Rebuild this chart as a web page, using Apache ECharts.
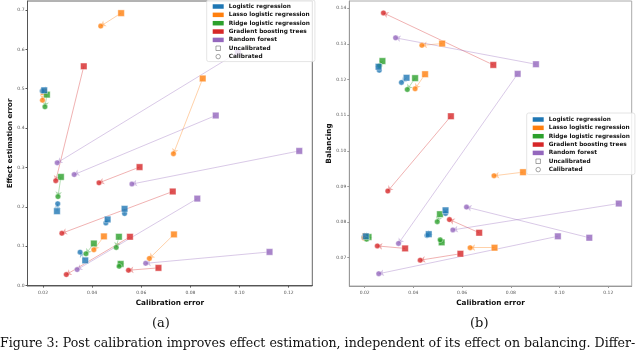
<!DOCTYPE html>
<html><head><meta charset="utf-8">
<script src="https://cdn.jsdelivr.net/npm/echarts@6/dist/echarts.min.js"></script>
<style>html,body{margin:0;padding:0;background:#fff}#c{width:640px;height:352px}</style>
</head><body><div id="c"></div>
<script>
const models = ['Logistic regression','Lasso logistic regression','Ridge logistic regression','Gradient boosting trees','Random forest'];
const colors = ['#1f77b4','#ff7f0e','#2ca02c','#d62728','#9467bd'];
// calibration error, uncalibrated and calibrated (shared by both panels)
const calErrUncal = [
  [0.0205, 0.0257, 0.0463, 0.0532, 0.0372],
  [0.0518, 0.0203, 0.0850, 0.0448, 0.0733],
  [0.0216, 0.0273, 0.0407, 0.0509, 0.0516],
  [0.0366, 0.0593, 0.0728, 0.0554, 0.0670],
  [0.0993, 0.0903, 0.1243, 0.0828, 0.1122]
];
const calErrCal = [
  [0.0197, 0.0260, 0.0456, 0.0532, 0.0351],
  [0.0435, 0.0198, 0.0731, 0.0407, 0.0633],
  [0.0208, 0.0261, 0.0375, 0.0498, 0.0510],
  [0.0252, 0.0428, 0.0277, 0.0295, 0.0548],
  [0.0258, 0.0327, 0.0562, 0.0339, 0.0618]
];
// panel (a): effect estimation error
const effectUncal = [
  [0.496, 0.189, 0.168, 0.195, 0.064],
  [0.692, 0.492, 0.526, 0.125, 0.130],
  [0.485, 0.276, 0.107, 0.124, 0.055],
  [0.557, 0.301, 0.239, 0.124, 0.045],
  [0.592, 0.432, 0.342, 0.221, 0.0855]
];
const effectCal = [
  [0.494, 0.208, 0.159, 0.183, 0.085],
  [0.659, 0.471, 0.335, 0.091, 0.069],
  [0.454, 0.226, 0.081, 0.097, 0.049],
  [0.2665, 0.261, 0.133, 0.028, 0.039],
  [0.312, 0.282, 0.258, 0.0406, 0.0566]
];
// panel (b): balancing
const balUncal = [
  [0.0760, 0.1236, 0.0766, 0.0833, 0.1205],
  [0.1301, 0.0760, 0.0940, 0.1215, 0.0728],
  [0.0758, 0.1252, 0.1204, 0.0822, 0.0743],
  [0.0726, 0.0711, 0.1241, 0.1097, 0.0770],
  [0.0760, 0.1243, 0.0852, 0.1216, 0.0756]
];
const balCal = [
  [0.0757, 0.1226, 0.0762, 0.0824, 0.1192],
  [0.1296, 0.0755, 0.0930, 0.1174, 0.0728],
  [0.0752, 0.1239, 0.1172, 0.0801, 0.0750],
  [0.0733, 0.0693, 0.1387, 0.0887, 0.0807],
  [0.0655, 0.1317, 0.0778, 0.0740, 0.0842]
];
const xTicks = [0.02, 0.04, 0.06, 0.08, 0.10, 0.12];
const effectTicks = [0.0, 0.1, 0.2, 0.3, 0.4, 0.5, 0.6, 0.7];
const balTicks = [0.07, 0.08, 0.09, 0.10, 0.11, 0.12, 0.13, 0.14];

const chart = echarts.init(document.getElementById('c'), null, {renderer: 'canvas'});
const FONT = 'DejaVu Sans';

function buildSeries(panel, yU, yC) {
  const out = [];
  models.forEach((m, i) => {
    out.push({
      type: 'lines', name: m, coordinateSystem: 'cartesian2d', xAxisIndex: panel, yAxisIndex: panel,
      symbol: ['none', 'arrow'], symbolSize: 5, z: 2,
      lineStyle: {color: colors[i], width: 0.9, opacity: 0.4},
      data: calErrUncal[i].map((x, k) => ({coords: [[x, yU[i][k]], [calErrCal[i][k], yC[i][k]]]}))
    });
  });
  models.forEach((m, i) => {
    out.push({
      type: 'scatter', name: m, xAxisIndex: panel, yAxisIndex: panel, symbol: 'rect', symbolSize: 6.5,
      z: i === 0 ? 5 : 3,
      itemStyle: {color: colors[i], borderColor: '#fff', borderWidth: 0.5},
      data: calErrUncal[i].map((x, k) => [x, yU[i][k]])
    });
    out.push({
      type: 'scatter', name: m, xAxisIndex: panel, yAxisIndex: panel, symbol: 'circle', symbolSize: 5.5, z: 4,
      itemStyle: {color: colors[i], borderColor: '#fff', borderWidth: 0.5},
      data: calErrCal[i].map((x, k) => [x, yC[i][k]])
    });
  });
  out.push({type: 'scatter', name: 'Uncalibrated', xAxisIndex: panel, yAxisIndex: panel, data: []});
  out.push({type: 'scatter', name: 'Calibrated', xAxisIndex: panel, yAxisIndex: panel, data: []});
  return out;
}

function legendFor(idx, left, top) {
  return {
    orient: 'vertical', left: left, top: top, padding: [3.5, 5, 2, 6],
    itemWidth: 11, itemHeight: 4.5, itemGap: 2.35,
    selectedMode: false,
    backgroundColor: 'rgba(255,255,255,0.8)', borderColor: '#ddd', borderWidth: 0.8, borderRadius: 2,
    textStyle: {fontSize: 5.8, fontWeight: 'bold', fontFamily: FONT, color: '#111', lineHeight: 6},
    data: models.map((m, i) => ({name: m, icon: 'rect', itemStyle: {color: colors[i], borderWidth: 0}}))
      .concat([
        {name: 'Uncalibrated', icon: 'path://M0,0H10V10H0Z', itemStyle: {color: '#fff', borderColor: '#444', borderWidth: 0.6}},
        {name: 'Calibrated', icon: 'circle', itemStyle: {color: '#fff', borderColor: '#444', borderWidth: 0.6}}
      ])
  };
}

function xAxis(idx, lineColor) {
  return {
    type: 'value', gridIndex: idx, min: 0.0137, max: 0.1296,
    name: 'Calibration error', nameLocation: 'middle', nameGap: 9,
    nameTextStyle: {fontSize: 7.3, fontWeight: 'bold', fontFamily: FONT, color: '#111'},
    axisLine: {show: true, lineStyle: {color: lineColor, width: 1}},
    axisTick: {show: true, length: 2, customValues: xTicks, lineStyle: {color: lineColor}},
    axisLabel: {customValues: xTicks, fontSize: 4.5, fontFamily: FONT, color: '#555', margin: 4,
      formatter: v => v.toFixed(2)},
    splitLine: {show: false}
  };
}

const option = {
  animation: false,
  backgroundColor: '#fff',
  grid: [
    {left: 27.5, right: 327.7, top: 1, bottom: 66, show: true, borderColor: '#666', borderWidth: 1, backgroundColor: 'transparent'},
    {left: 349.3, right: 8.3, top: 1, bottom: 66, show: true, borderColor: '#aaa', borderWidth: 1, backgroundColor: 'transparent'}
  ],
  xAxis: [xAxis(0, '#555'), xAxis(1, '#999')],
  yAxis: [
    {type: 'value', gridIndex: 0, min: -0.001, max: 0.7228,
      name: 'Effect estimation error', nameLocation: 'middle', nameGap: 12,
      nameTextStyle: {fontSize: 7, fontWeight: 'bold', fontFamily: FONT, color: '#111'},
      axisLine: {show: true, lineStyle: {color: '#555'}},
      axisTick: {show: true, length: 2, customValues: effectTicks, lineStyle: {color: '#555'}},
      axisLabel: {customValues: effectTicks, fontSize: 4.5, fontFamily: FONT, color: '#555', margin: 3,
        formatter: v => v.toFixed(1)},
      splitLine: {show: false}},
    {type: 'value', gridIndex: 1, min: 0.06205, max: 0.14205,
      name: 'Balancing', nameLocation: 'middle', nameGap: 12,
      nameTextStyle: {fontSize: 7.3, fontWeight: 'bold', fontFamily: FONT, color: '#111'},
      axisLine: {show: true, lineStyle: {color: '#999'}},
      axisTick: {show: true, length: 2, customValues: balTicks, lineStyle: {color: '#999'}},
      axisLabel: {customValues: balTicks, fontSize: 4.5, fontFamily: FONT, color: '#555', margin: 3,
        formatter: v => v.toFixed(2)},
      splitLine: {show: false}}
  ],
  legend: [legendFor(0, 206.7, 0), legendFor(1, 526.7, 113)],
  series: buildSeries(0, effectUncal, effectCal).concat(buildSeries(1, balUncal, balCal)),
  graphic: [
    {type: 'text', left: 152, top: 317, style: {text: '(a)', font: '13px "DejaVu Serif"', fill: '#111'}},
    {type: 'text', left: 470, top: 317, style: {text: '(b)', font: '13px "DejaVu Serif"', fill: '#111'}},
    {type: 'text', left: 0, top: 337, style: {text: 'Figure 3: Post calibration improves effect estimation, independent of its effect on balancing. Differ-', font: '12.6px "DejaVu Serif"', fill: '#111'}}
  ]
};
chart.setOption(option);
</script>
</body></html>
